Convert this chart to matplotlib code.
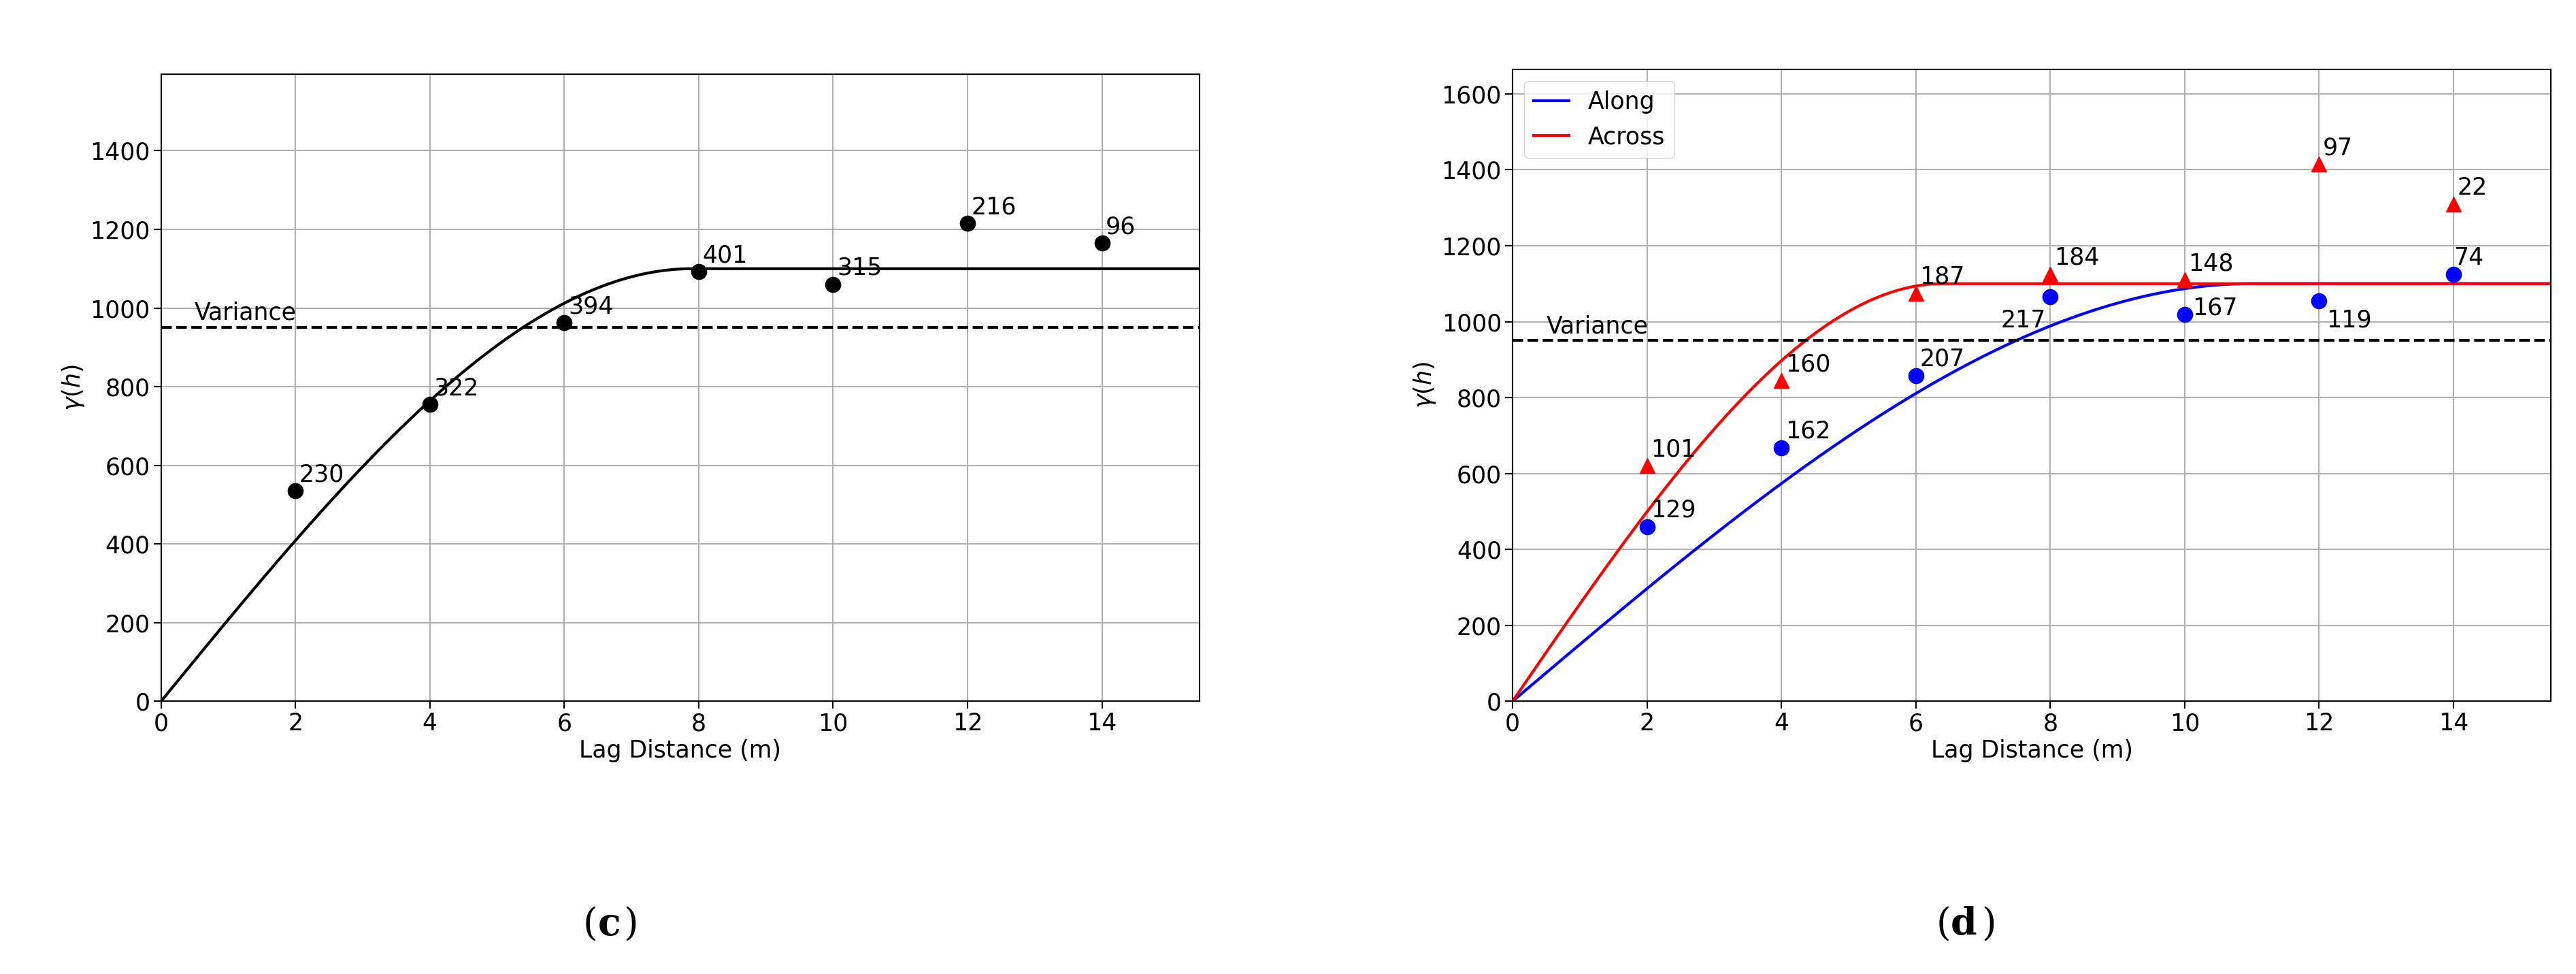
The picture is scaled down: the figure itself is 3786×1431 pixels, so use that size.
import numpy as np
import matplotlib.pyplot as plt

# experimental semivariogram points
lags = [2, 4, 6, 8, 10, 12, 14]
omni_gamma = [535, 755, 962, 1092, 1060, 1215, 1165]
omni_pairs = [230, 322, 394, 401, 315, 216, 96]
along_gamma = [460, 668, 858, 1065, 1018, 1055, 1125]
along_pairs = [129, 162, 207, 217, 167, 119, 74]
across_gamma = [620, 845, 1075, 1125, 1110, 1415, 1310]
across_pairs = [101, 160, 187, 184, 148, 97, 22]

variance = 950
sill = 1100
range_omni = 7.9
range_along = 11.0
range_across = 6.4


def spherical(h, a, c):
    r = np.minimum(h / a, 1.0)
    return c * (1.5 * r - 0.5 * r ** 3)


plt.rcParams['font.family'] = 'DejaVu Sans'
plt.rcParams['font.size'] = 25
plt.rcParams['mathtext.fontset'] = 'dejavusans'

fig = plt.figure(figsize=(37.87, 14.31), dpi=100)
ax1 = fig.add_axes([0.0625, 0.28, 0.403, 0.644])
ax2 = fig.add_axes([0.587, 0.28, 0.403, 0.649])
h = np.linspace(0, 15.5, 400)

# (c) omnidirectional
ax1.plot(h, spherical(h, range_omni, sill), color='black', lw=3)
ax1.plot(lags, omni_gamma, 'o', color='black', ms=16)
for x, y, n in zip(lags, omni_gamma, omni_pairs):
    ax1.annotate(str(n), (x, y), xytext=(4, 10), textcoords='offset points', fontsize=25)
ax1.axhline(variance, color='black', ls='--', lw=3)
ax1.text(0.5, variance + 20, 'Variance', fontsize=25)
ax1.set_ylim(0, 1595)
ax1.set_yticks(range(0, 1401, 200))

# (d) directional
ax2.plot(h, spherical(h, range_along, sill), color='blue', lw=3, label='Along')
ax2.plot(h, spherical(h, range_across, sill), color='red', lw=3, label='Across')
ax2.plot(lags, along_gamma, 'o', color='blue', ms=16)
ax2.plot(lags, across_gamma, '^', color='red', ms=16)
along_off = [(4, 10), (4, 10), (4, 10), (-52, -32), (8, 0), (8, -28), (0, 10)]
for (x, y, n), off in zip(zip(lags, along_gamma, along_pairs), along_off):
    ax2.annotate(str(n), (x, y), xytext=off, textcoords='offset points', fontsize=25)
for x, y, n in zip(lags, across_gamma, across_pairs):
    ax2.annotate(str(n), (x, y), xytext=(4, 10), textcoords='offset points', fontsize=25)
ax2.axhline(variance, color='black', ls='--', lw=3)
ax2.text(0.5, variance + 20, 'Variance', fontsize=25)
ax2.set_ylim(0, 1665)
ax2.set_yticks(range(0, 1601, 200))
ax2.legend(loc='upper left', fontsize=25, handlelength=1.5)

for ax in (ax1, ax2):
    ax.set_xlim(0, 15.45)
    ax.set_xticks(range(0, 15, 2))
    ax.grid(True, color='#b0b0b0', lw=1.5)
    ax.set_xlabel('Lag Distance (m)', fontsize=25)
    ax.set_ylabel(r'$\gamma(h)$', fontsize=25)
    ax.tick_params(labelsize=25, length=8, width=1.5)
    for s in ax.spines.values():
        s.set_linewidth(1.5)

fig.text(0.232, 0.04, '(', fontsize=40, family='DejaVu Serif', ha='right')
fig.text(0.232, 0.04, 'c', fontsize=40, family='DejaVu Serif', weight='bold', ha='left')
fig.text(0.242, 0.04, ')', fontsize=40, family='DejaVu Serif', ha='left')
fig.text(0.757, 0.04, '(', fontsize=40, family='DejaVu Serif', ha='right')
fig.text(0.757, 0.04, 'd', fontsize=40, family='DejaVu Serif', weight='bold', ha='left')
fig.text(0.769, 0.04, ')', fontsize=40, family='DejaVu Serif', ha='left')

fig.savefig('out.png', dpi=100)
